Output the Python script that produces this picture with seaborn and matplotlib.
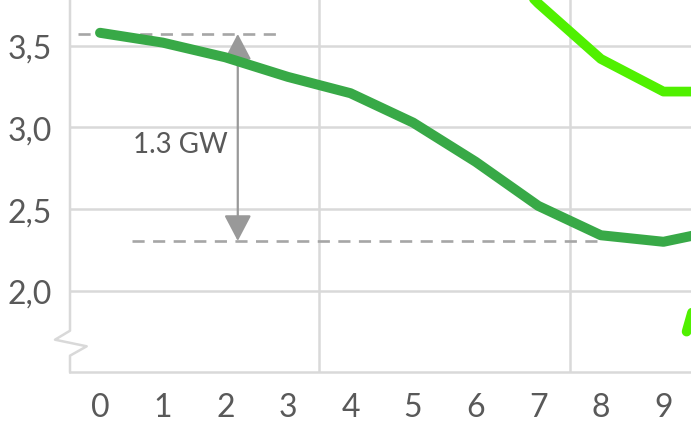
import matplotlib
matplotlib.use('Agg')
import matplotlib.pyplot as plt
import pandas as pd
import seaborn as sns

# Data (GW)
hours = [0, 1, 2, 3, 4, 5, 6, 7, 8, 9, 10]
dark_green = [3.58, 3.52, 3.43, 3.31, 3.21, 3.03, 2.79, 2.52, 2.34, 2.30, 2.38]
light_green = [None, None, None, None, None, None, 4.15, 3.76, 3.42, 3.22, 3.22]
low_x = [9.37, 10.0]
low_y = [1.75, 2.60]

y_ticks = [2.0, 2.5, 3.0, 3.5]
y_labels = ['2,0', '2,5', '3,0', '3,5']

# reference levels for the 1.3 GW gap
top_level = 3.573
bottom_level = 2.305
top_span = (-0.35, 2.84)
bottom_span = (0.51, 8.0)
arrow_x = 2.2

df = pd.DataFrame({'hour': hours, 'dark': dark_green, 'light': light_green})

sns.set_theme(style='white')
plt.rcParams['font.family'] = ['Lato', 'DejaVu Sans']

grid_col = '#d9d9d9'
text_col = '#595959'
dash_col = '#a6a6a6'

fig = plt.figure(figsize=(6.91, 4.27), dpi=100)
ax = fig.add_axes([70 / 691, 53.6 / 427, 621 / 691, 373.4 / 427])

# reference dashed lines + arrow
ax.plot(top_span, [top_level, top_level], color=dash_col, lw=1.9,
        dashes=(4.6, 3.2), zorder=2)
ax.plot(bottom_span, [bottom_level, bottom_level], color=dash_col, lw=1.9,
        dashes=(4.6, 3.2), zorder=2)
ax.annotate('', xy=(arrow_x, top_level), xytext=(arrow_x, bottom_level),
            arrowprops=dict(arrowstyle='<|-|>,head_length=0.8,head_width=0.42',
                            color='#999999', lw=1.6, mutation_scale=20,
                            shrinkA=0, shrinkB=0), zorder=3)
ax.text(1.28, 2.90, '1.3 GW', fontsize=20, color=text_col,
        ha='center', va='center')

sns.lineplot(data=df, x='hour', y='dark', color='#38a947', linewidth=7.2,
             solid_capstyle='round', solid_joinstyle='round', ax=ax, zorder=4)
sns.lineplot(data=df.dropna(), x='hour', y='light', color='#50f000', linewidth=7.0,
             solid_capstyle='round', solid_joinstyle='round', ax=ax, zorder=4)
sns.lineplot(x=low_x, y=low_y, color='#50f000', linewidth=7.0,
             solid_capstyle='round', ax=ax, zorder=4)

ax.set_xlim(-0.48, 9.44)
ax.set_ylim(1.5, 3.787)
ax.set_xticks(hours[:10])
ax.set_xticks([3.5, 7.5], minor=True)
ax.set_yticks(y_ticks)
ax.set_yticklabels(y_labels)
ax.set_xlabel('')
ax.set_ylabel('')

ax.grid(False)
ax.yaxis.grid(True, color=grid_col, lw=1.8)
ax.xaxis.grid(True, which='minor', color=grid_col, lw=1.8)
ax.set_axisbelow(True)
ax.tick_params(axis='both', which='both', length=0, labelsize=23,
               labelcolor=text_col)
ax.tick_params(axis='y', pad=13)
ax.tick_params(axis='x', pad=14)

for side in ['top', 'right', 'left']:
    ax.spines[side].set_visible(False)
ax.spines['bottom'].set_color(grid_col)
ax.spines['bottom'].set_linewidth(1.8)

# left axis with break mark
def ax_pt(px, py):
    return (px - 70) / 621, (373.4 - py) / 373.4

pts = [ax_pt(70, 0), ax_pt(70, 331.7), ax_pt(55, 340.7), ax_pt(86.7, 347.3),
       ax_pt(70, 356.7), ax_pt(70, 373.4)]
ax.plot([p[0] for p in pts], [p[1] for p in pts], color=grid_col, lw=1.8,
        transform=ax.transAxes, clip_on=False, zorder=1)

fig.savefig('out.png', dpi=100)
